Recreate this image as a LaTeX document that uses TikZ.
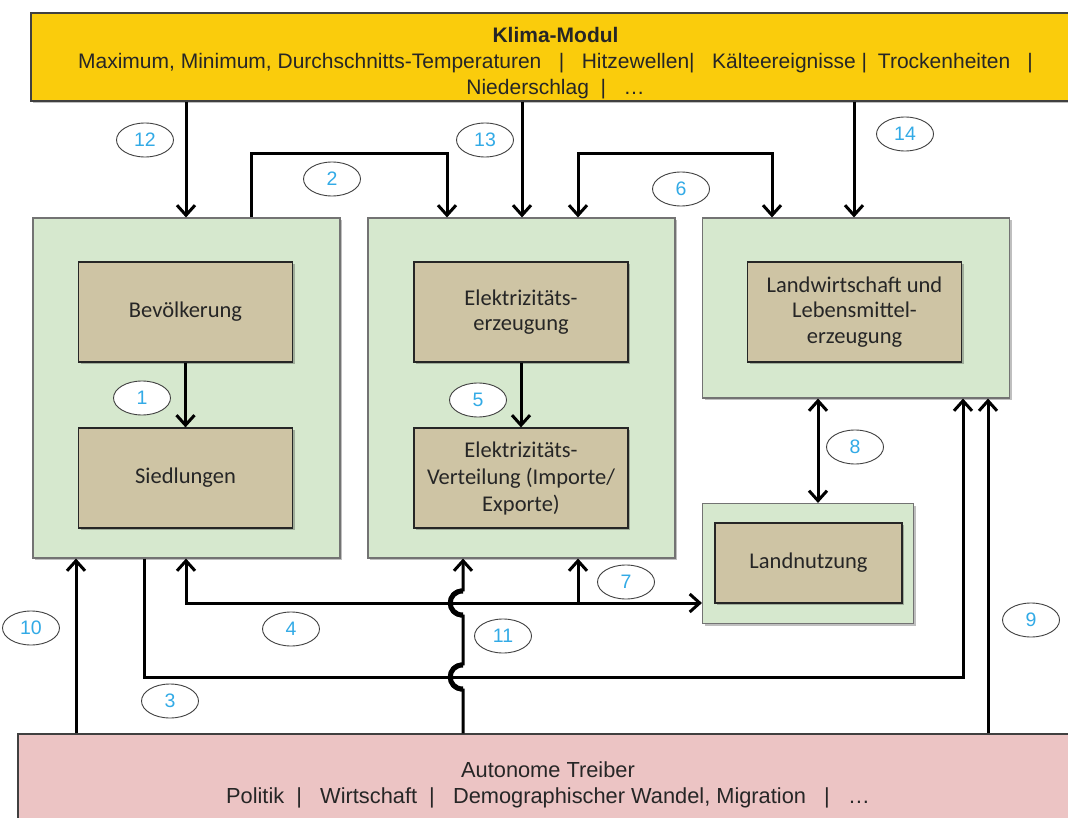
\documentclass[tikz,border=0pt]{standalone}
\usepackage{fontspec}
\setmainfont{Liberation Sans}
\newfontfamily\calib{Carlito}
\usetikzlibrary{arrows.meta,shadows,shapes.geometric}
\definecolor{klimagelb}{RGB}{250,204,12}
\definecolor{modgruen}{RGB}{214,232,206}
\definecolor{sektbraun}{RGB}{206,196,164}
\definecolor{treibrot}{RGB}{236,196,196}
\definecolor{nrblau}{RGB}{50,170,230}
\begin{document}
\begin{tikzpicture}[x=1pt,y=-1pt,
  shad/.style={drop shadow={shadow xshift=2pt,shadow yshift=-2pt,opacity=0.25,fill=black}},
  bigbox/.style={rectangle,draw=black!75,line width=1.2pt,inner sep=0pt,shad},
  bigtext/.style={align=center,text=black!85,inner sep=0pt},
  modbox/.style={rectangle,draw=black!55,line width=1.1pt,fill=modgruen,inner sep=0pt,shad},
  sekbox/.style={rectangle,draw=black!85,line width=1.2pt,fill=sektbraun,inner sep=0pt,shad,align=center,text=black!85,
    minimum width=214pt,minimum height=100pt,font=\calib\fontsize{22.5}{25.5}\selectfont},
  lbl/.style={ellipse,draw=black!75,line width=0.9pt,fill=white,minimum width=57pt,minimum height=34pt,inner sep=0pt,
    text=nrblau,font=\fontsize{19.5}{20}\selectfont},
  conn/.style={line width=3pt,black},
  tip/.tip={Straight Barb[length=10pt,width=18pt]},
  arr/.style={conn,-tip},
  darr/.style={conn,tip-tip}]
\clip (0,0) rectangle (1068,818);
\fill[white] (0,0) rectangle (1068,818);

% main boxes
\node[bigbox,fill=klimagelb,minimum width=1049pt,minimum height=88pt] (klima) at (555.5,57) {};
\node[bigtext,font=\fontsize{21}{26}\selectfont] (klimatxt) at ([yshift=-6pt]klima.center)
  {\textbf{Klima-Modul}\\Maximum, Minimum, Durchschnitts-Temperaturen ~ | ~ Hitzewellen| ~ Kälteereignisse |\hspace{11pt}Trockenheiten\hspace{17pt}|\\Niederschlag ~| ~ …};
\node[bigbox,fill=treibrot,minimum width=1060pt,minimum height=96pt] (red) at (548,782) {};
\node[bigtext,font=\fontsize{21.8}{26}\selectfont] (redtxt) at ([yshift=-3pt]red.center)
  {Autonome Treiber\\Politik ~| ~ Wirtschaft ~| ~ Demographischer Wandel, Migration ~ | ~ …};

\node[modbox,minimum width=307pt,minimum height=340pt] (g1) at (186.5,388) {};
\node[modbox,minimum width=307pt,minimum height=340pt] (g2) at (521.5,388) {};
\node[modbox,minimum width=307pt,minimum height=180pt] (g3) at (856,308) {};
\node[modbox,minimum width=211pt,minimum height=120pt] (g4) at (808,563.5) {};

\node[sekbox] (bev) at (185.5,312) {Bevölkerung};
\node[sekbox] (sied) at (185.5,478) {Siedlungen};
\node[sekbox] (eerz) at (521,312) {Elektrizitäts-\\erzeugung};
\node[sekbox,font=\calib\fontsize{22.5}{27}\selectfont] (evert) at (521,478) {Elektrizitäts-\\Verteilung (Importe/\\Exporte)};
\node[sekbox] (land) at (854.5,312) {Landwirtschaft und\\Lebensmittel-\\erzeugung};
\node[sekbox,minimum width=187pt,minimum height=80pt] (lnutz) at (808.5,563) {Landnutzung};

% helper coordinates
\coordinate (c12) at (186,0);
\coordinate (c13) at (522,0);
\coordinate (c14) at (854,0);
\coordinate (c2a) at (251,154);
\coordinate (c2b) at (447,154);
\coordinate (c6a) at (578,154);
\coordinate (c6b) at (772,154);
\coordinate (c8) at (818,0);
\coordinate (c4) at (186,603);
\coordinate (c7) at (578,603);
\coordinate (c3) at (144,677);
\coordinate (c3b) at (963,677);
\coordinate (h4) at (463,603);
\coordinate (h3) at (463,677);
\coordinate (c9) at (988,0);
\coordinate (c10) at (76,0);

% connectors
\draw[arr] (klima.south -| c12) -- (g1.north -| c12);
\draw[arr] (klima.south -| c13) -- (g2.north -| c13);
\draw[arr] (klima.south -| c14) -- (g3.north -| c14);
\draw[arr] (g1.north -| c2a) -- (c2a) -- (c2b) -- (g2.north -| c2b);
\draw[darr] (g2.north -| c6a) -- (c6a) -- (c6b) -- (g3.north -| c6b);
\draw[arr] (bev.south) -- (sied.north);
\draw[arr] (eerz.south) -- (evert.north);
\draw[darr] (g3.south -| c8) -- (g4.north -| c8);
\draw[conn,tip-tip] (g1.south -| c4) -- (c4) -- (g4.west |- c4);
\draw[arr] (c7) -- (g2.south -| c7);
\draw[arr] (g1.south -| c3) -- (c3) -- (c3b) -- (g3.south -| c3b);
\draw[arr] (red.north -| h3) -- ([yshift=-13pt]h3)
  .. controls ([xshift=-18pt,yshift=-13pt]h3) and ([xshift=-18pt,yshift=13pt]h3) .. ([yshift=13pt]h3)
  -- ([yshift=-13pt]h4)
  .. controls ([xshift=-18pt,yshift=-13pt]h4) and ([xshift=-18pt,yshift=13pt]h4) .. ([yshift=13pt]h4)
  -- (g2.south -| h4);
\draw[line width=5pt] ([yshift=-12pt]h3) .. controls ([xshift=-17pt,yshift=-12pt]h3) and ([xshift=-17pt,yshift=12pt]h3) .. ([yshift=12pt]h3);
\draw[line width=5pt] ([yshift=-12pt]h4) .. controls ([xshift=-17pt,yshift=-12pt]h4) and ([xshift=-17pt,yshift=12pt]h4) .. ([yshift=12pt]h4);
\draw[arr] (red.north -| c9) -- (g3.south -| c9);
\draw[arr] (red.north -| c10) -- (g1.south -| c10);

% labels
\node[lbl] (n12) at (145,140) {12};
\node[lbl] (n13) at (485,140) {13};
\node[lbl] (n14) at (905,134) {14};
\node[lbl] (n2) at (332,179) {2};
\node[lbl] (n6) at (681,189) {6};
\node[lbl] (n1) at (142,398) {1};
\node[lbl] (n5) at (478,400) {5};
\node[lbl] (n8) at (855,447) {8};
\node[lbl] (n7) at (626,582) {7};
\node[lbl] (n4) at (291,629) {4};
\node[lbl] (n11) at (503,636) {11};
\node[lbl] (n10) at (31,628) {10};
\node[lbl] (n9) at (1031,620) {9};
\node[lbl] (n3) at (170,701) {3};
\end{tikzpicture}
\end{document}
